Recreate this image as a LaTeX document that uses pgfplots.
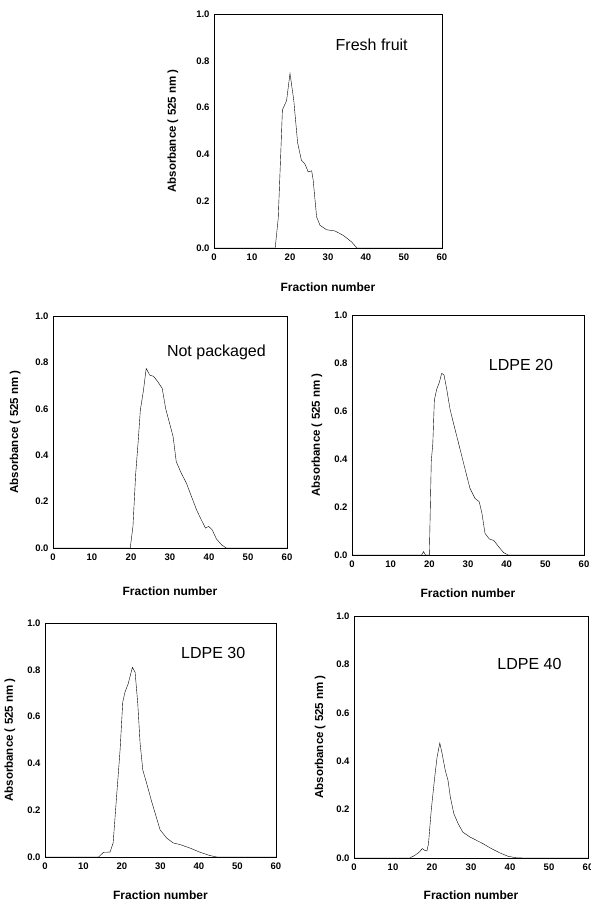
\documentclass[border=0pt]{standalone}
\usepackage{fontspec}
\setmainfont{Liberation Sans}
\usepackage{pgfplots}
\pgfplotsset{compat=1.18}
\tikzset{inset/.style={font=\fontsize{16}{18}\selectfont}}
\pgfplotsset{
  panel/.style={
    scale only axis,
    anchor=south west,
    xmin=0, xmax=60, ymin=0, ymax=1,
    xtick={0,10,...,60},
    ytick={0,0.2,...,1.0},
    major tick length=0pt,
    axis line style={line width=0.8pt},
    tick label style={font=\bfseries\fontsize{9.5}{11}\selectfont},
    /pgf/number format/assume math mode=true,
    yticklabel style={/pgf/number format/fixed,/pgf/number format/fixed zerofill,/pgf/number format/precision=1, xshift=-1pt},
    xticklabel style={yshift=-2pt},
    xlabel={Fraction number},
    ylabel={Absorbance ( 525 nm )},
    xlabel style={font=\bfseries\fontsize{12}{14}\selectfont},
    ylabel style={font=\bfseries\fontsize{11.5}{13}\selectfont},
    cycle list={{black, line width=0.8pt, mark=none}},
  },
}
\begin{document}
\begin{tikzpicture}[x=1pt,y=1pt]
\useasboundingbox (0pt,0pt) rectangle (590pt,904pt);
% Fresh fruit
\begin{axis}[panel, at={(214pt,656pt)}, width=228pt, height=234pt,
  xlabel style={at={(axis description cs:0.5,-0.167)}, anchor=center},
  ylabel style={at={(axis description cs:-0.180,0.5)}, anchor=center}]
\addplot coordinates {(0,0) (16.1,0) (16.9,0.126) (17.6,0.418) (18.0,0.59) (19.1,0.63) (20.0,0.746) (21.0,0.63) (22.0,0.45) (23.0,0.375) (23.9,0.36) (24.8,0.325) (25.7,0.33) (26.1,0.29) (27.0,0.133) (27.9,0.097) (29.6,0.078) (31.8,0.073) (34.0,0.054) (36.2,0.026) (37.6,0) (60,0)};
\node[inset] at (axis cs:41.5,0.87) {Fresh fruit};
\end{axis}
% Not packaged
\begin{axis}[panel, at={(53pt,356pt)}, width=234pt, height=232pt,
  xlabel style={at={(axis description cs:0.5,-0.185)}, anchor=center},
  ylabel style={at={(axis description cs:-0.162,0.5)}, anchor=center}]
\addplot coordinates {(0,0) (19.8,0) (20.5,0.093) (21.2,0.32) (21.8,0.45) (22.4,0.595) (23.2,0.68) (23.9,0.774) (24.8,0.745) (25.8,0.74) (26.9,0.716) (28.0,0.688) (28.9,0.60) (29.9,0.537) (30.8,0.48) (31.6,0.372) (32.9,0.322) (34.2,0.28) (35.5,0.222) (36.8,0.165) (38.0,0.122) (39.1,0.086) (39.9,0.093) (40.8,0.079) (41.9,0.039) (43.2,0.014) (44.4,0) (60,0)};
\node[inset] at (axis cs:41.9,0.845) {Not packaged};
\end{axis}
% LDPE 20
\begin{axis}[panel, at={(352pt,349pt)}, width=232pt, height=240pt,
  xlabel style={at={(axis description cs:0.5,-0.158)}, anchor=center},
  ylabel style={at={(axis description cs:-0.151,0.5)}, anchor=center}]
\addplot coordinates {(0,0) (18.0,0) (18.5,0.014) (19.0,0) (20.0,0) (20.5,0.39) (20.9,0.465) (21.3,0.646) (21.9,0.69) (22.6,0.72) (23.2,0.757) (23.8,0.75) (24.5,0.69) (25.4,0.604) (26.7,0.52) (28.0,0.4375) (29.3,0.354) (30.5,0.278) (31.8,0.236) (32.9,0.222) (33.6,0.174) (34.4,0.09) (35.5,0.067) (36.7,0.06) (37.9,0.035) (39.2,0.01) (40.4,0) (60,0)};
\node[inset] at (axis cs:43.7,0.79) {LDPE 20};
\end{axis}
% LDPE 30
\begin{axis}[panel, at={(45pt,47pt)}, width=231pt, height=234pt,
  xlabel style={at={(axis description cs:0.5,-0.162)}, anchor=center},
  ylabel style={at={(axis description cs:-0.152,0.5)}, anchor=center}]
\addplot coordinates {(0,0) (13.9,0) (15.2,0.02) (16.9,0.021) (17.7,0.06) (18.6,0.26) (19.5,0.457) (20.2,0.663) (20.8,0.706) (21.6,0.74) (22.7,0.81) (23.4,0.79) (24.1,0.655) (24.7,0.486) (25.4,0.372) (26.4,0.315) (27.7,0.237) (28.6,0.1875) (29.9,0.116) (31.6,0.081) (33.3,0.06) (35.1,0.053) (37.7,0.038) (40.3,0.02) (42.9,0.006) (44.6,0) (60,0)};
\node[inset] at (axis cs:43.7,0.87) {LDPE 30};
\end{axis}
% LDPE 40
\begin{axis}[panel, at={(354pt,46pt)}, width=234pt, height=242pt,
  xlabel style={at={(axis description cs:0.5,-0.153)}, anchor=center},
  ylabel style={at={(axis description cs:-0.145,0.5)}, anchor=center}]
\addplot coordinates {(0,0) (14.3,0) (15.6,0.011) (16.8,0.025) (17.5,0.039) (18.1,0.032) (18.7,0.029) (19.1,0.059) (19.8,0.197) (20.7,0.335) (21.3,0.417) (22.0,0.475) (22.6,0.431) (23.4,0.362) (24.1,0.321) (24.7,0.252) (25.6,0.183) (26.7,0.142) (27.9,0.107) (29.7,0.087) (31.4,0.073) (33.1,0.059) (35.2,0.039) (37.4,0.021) (39.5,0.007) (41.6,0.001) (43.3,0) (60,0)};
\node[inset] at (axis cs:45.0,0.80) {LDPE 40};
\end{axis}
\end{tikzpicture}
\end{document}
